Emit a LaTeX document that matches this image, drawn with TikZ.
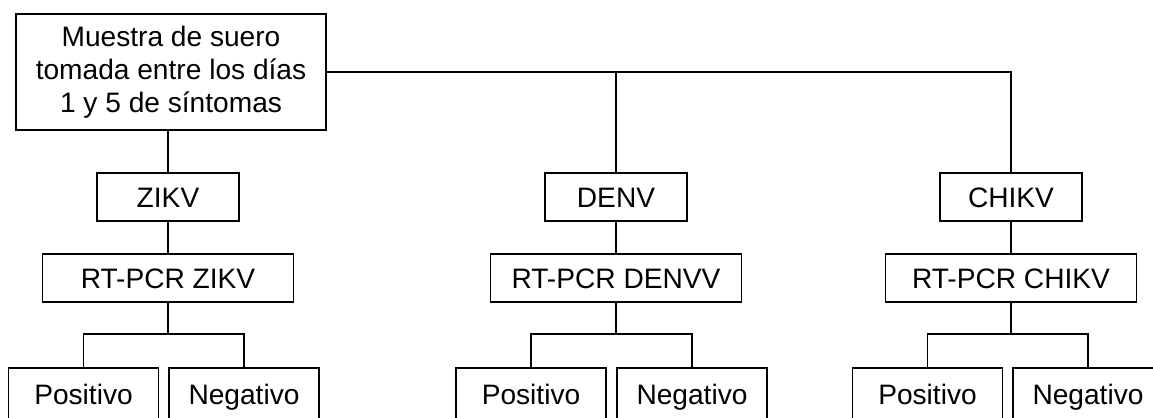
\documentclass[tikz,border=0pt]{standalone}
\usepackage{fontspec}
\setmainfont{Liberation Sans}
\usepackage{tikz}
\usetikzlibrary{positioning,calc}
\tikzset{
  % Base box
  FB/.style={rectangle,draw=black,line width=1.2pt,inner sep=0pt,
             text centered,align=center,
             font=\fontsize{20}{23.5}\selectfont},
  % Single line box, caps centred
  SB/.style={FB,text height=15pt,text depth=0.7pt},
  % Size variants (1 px = 0.025 cm)
  nTop/.style={FB,minimum width=7.75cm,minimum height=2.9cm},
  nVir/.style={SB,minimum width=3.55cm,minimum height=1.2cm},
  nPcr/.style={SB,minimum width=6.275cm,minimum height=1.2cm},
  nRes/.style={SB,minimum width=3.75cm,minimum height=1.3cm},
  % Connector
  con/.style={line width=1.2pt,black}
}
\begin{document}
\begin{tikzpicture}[x=0.025cm,y=-0.025cm]
  % Page frame in pixel units, result boxes run off the bottom edge.
  \path[use as bounding box] (0,0) rectangle (1153,418);
  \clip (0,0) rectangle (1153,418);
  \node[nTop] (muestra) at (171,72)
    {Muestra de suero\\tomada entre los días\\1 y 5 de síntomas};
  % ZIKV column
  \node[nVir] (zikv) at (168,197) {ZIKV};
  \node[nPcr] (rtz)  at (168,278) {RT-PCR ZIKV};
  \node[nRes] (pz)   at (83.5,394) {Positivo};
  \node[nRes] (nz)   at (244,394)  {Negativo};
  % DENV column
  \node[nVir] (denv) at (616,197) {DENV};
  \node[nPcr] (rtd)  at (616,278) {RT-PCR DENVV};
  \node[nRes] (pd)   at (531,394) {Positivo};
  \node[nRes] (nd)   at (692,394) {Negativo};
  % CHIKV column
  \node[nVir] (chikv) at (1011,197) {CHIKV};
  \node[nPcr] (rtc)   at (1011,278) {RT-PCR CHIKV};
  \node[nRes] (pc)    at (927.5,394) {Positivo};
  \node[nRes] (nc)    at (1088,394)  {Negativo};
  % Branch points
  \coordinate (hz) at (168,334);
  \coordinate (hd) at (616,334);
  \coordinate (hc) at (1011,334);
  \draw[con] (muestra.south -| zikv.north) -- (zikv.north);
  \draw[con] (muestra.east) -| (chikv.north);
  \draw[con] (muestra.east -| denv.north) -- (denv.north);
  \draw[con] (zikv.south) -- (rtz.north);
  \draw[con] (denv.south) -- (rtd.north);
  \draw[con] (chikv.south) -- (rtc.north);
  \draw[con] (rtz.south) -- (hz);
  \draw[con] (pz.north) |- (hz) -| (nz.north);
  \draw[con] (rtd.south) -- (hd);
  \draw[con] (pd.north) |- (hd) -| (nd.north);
  \draw[con] (rtc.south) -- (hc);
  \draw[con] (pc.north) |- (hc) -| (nc.north);
\end{tikzpicture}
\end{document}
